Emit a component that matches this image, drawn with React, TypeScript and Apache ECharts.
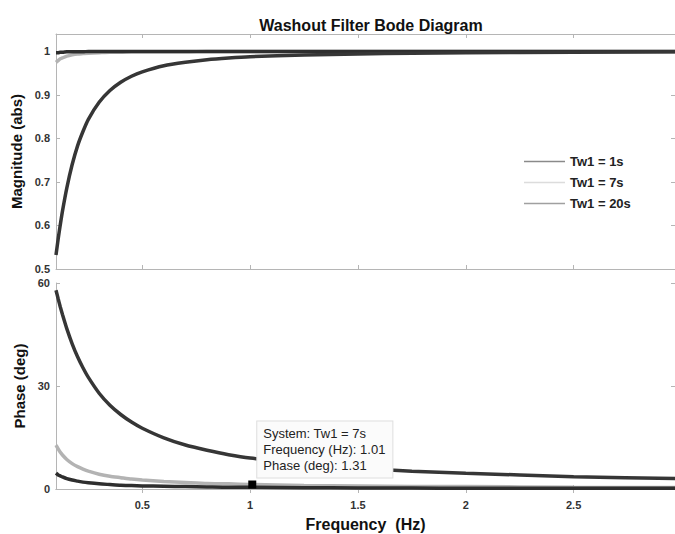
import React, { useEffect, useRef } from "react";
import * as echarts from "echarts";

const freq = [0.1, 0.11, 0.12, 0.13, 0.15, 0.175, 0.2, 0.225, 0.25, 0.3, 0.35, 0.4, 0.45, 0.5, 0.6, 0.7, 0.8, 0.9, 1.0, 1.25, 1.5, 1.75, 2.0, 2.5, 3.0];

const magTw1 = [0.532, 0.569, 0.602, 0.633, 0.686, 0.74, 0.783, 0.816, 0.844, 0.883, 0.91, 0.929, 0.943, 0.953, 0.967, 0.975, 0.981, 0.985, 0.988, 0.992, 0.994, 0.996, 0.997, 0.998, 0.999];
const magTw7 = [0.975, 0.979, 0.983, 0.985, 0.989, 0.992, 0.994, 0.995, 0.996, 0.997, 0.998, 0.998, 0.999, 0.999, 0.999, 0.999, 1.0, 1.0, 1.0, 1.0, 1.0, 1.0, 1.0, 1.0, 1.0];
const magTw20 = [0.997, 0.997, 0.998, 0.998, 0.999, 0.999, 0.999, 0.999, 1.0, 1.0, 1.0, 1.0, 1.0, 1.0, 1.0, 1.0, 1.0, 1.0, 1.0, 1.0, 1.0, 1.0, 1.0, 1.0, 1.0];

const phTw1 = [57.9, 55.4, 53.0, 50.8, 46.7, 42.3, 38.5, 35.3, 32.5, 27.9, 24.4, 21.7, 19.5, 17.7, 14.9, 12.8, 11.3, 10.0, 9.0, 7.3, 6.1, 5.2, 4.6, 3.6, 3.0];
const phTw7 = [12.8, 11.7, 10.7, 9.9, 8.6, 7.4, 6.5, 5.8, 5.2, 4.3, 3.7, 3.3, 2.9, 2.6, 2.2, 1.9, 1.6, 1.5, 1.3, 1.0, 0.9, 0.7, 0.7, 0.5, 0.4];
const phTw20 = [4.6, 4.1, 3.8, 3.5, 3.0, 2.6, 2.3, 2.0, 1.8, 1.5, 1.3, 1.1, 1.0, 0.9, 0.8, 0.7, 0.6, 0.5, 0.5, 0.4, 0.3, 0.3, 0.2, 0.2, 0.2];

const seriesNames = ["Tw1 = 1s", "Tw1 = 7s", "Tw1 = 20s"];
const xTicks = [0.5, 1, 1.5, 2, 2.5];
const magTicks = [0.5, 0.6, 0.7, 0.8, 0.9, 1];
const phTicks = [0, 30, 60];
const cursor = { system: "Tw1 = 7s", freq: 1.01, phase: 1.31 };

const pair = (ys: number[]) => freq.map((f, i) => [f, ys[i]]);

const FONT = "'Liberation Sans', Arial, sans-serif";
const BORDER = "#b5b5b5";

export default function App() {
  const ref = useRef<HTMLDivElement>(null);
  useEffect(() => {
    document.body.style.margin = "0";
    const chart = echarts.init(ref.current!, null, { renderer: "svg" });
    const tickStyle = { show: true, inside: true, length: 4, lineStyle: { color: BORDER } };
    const axisLine = { show: true, lineStyle: { color: BORDER, width: 1 } };
    const label = { fontFamily: FONT, fontWeight: "bold" as const, fontSize: 11, color: "#333" };
    const nameStyle = { fontFamily: FONT, fontWeight: "bold" as const, fontSize: 15, color: "#111" };

    const xBase = (grid: number, pos: "top" | "bottom", labels: boolean, name?: string) => ({
      type: "value",
      gridIndex: grid,
      position: pos,
      min: 0.1,
      max: 2.97,
      axisLine,
      axisTick: { ...tickStyle, customValues: xTicks },
      axisLabel: { show: labels, customValues: xTicks, margin: 10, ...label },
      splitLine: { show: false },
      name,
      nameLocation: "middle",
      nameGap: 27,
      nameTextStyle: { ...nameStyle, fontSize: 16 },
    });
    const yBase = (grid: number, pos: "left" | "right", min: number, max: number, ticks: number[], labels: boolean, name?: string) => ({
      type: "value",
      gridIndex: grid,
      position: pos,
      min,
      max,
      axisLine,
      axisTick: { ...tickStyle, customValues: ticks },
      axisLabel: { show: labels, customValues: ticks, margin: 6, ...label },
      splitLine: { show: false },
      name,
      nameLocation: "middle",
      nameGap: 26,
      nameTextStyle: nameStyle,
    });

    const colors: Record<string, string> = {
      "Tw1 = 1s": "#363636",
      "Tw1 = 7s": "#b3b3b3",
      "Tw1 = 20s": "#2e2e2e",
    };
    const legendColors: Record<string, string> = {
      "Tw1 = 1s": "#8a8a8a",
      "Tw1 = 7s": "#dcdcdc",
      "Tw1 = 20s": "#a0a0a0",
    };
    const mags: Record<string, number[]> = { "Tw1 = 1s": magTw1, "Tw1 = 7s": magTw7, "Tw1 = 20s": magTw20 };
    const phs: Record<string, number[]> = { "Tw1 = 1s": phTw1, "Tw1 = 7s": phTw7, "Tw1 = 20s": phTw20 };
    const drawOrder = ["Tw1 = 7s", "Tw1 = 20s", "Tw1 = 1s"];

    const series: any[] = [];
    drawOrder.forEach((n) => {
      const common = {
        type: "line",
        name: n,
        showSymbol: false,
        smooth: 0.2,
        lineStyle: { width: 3.5, color: colors[n] },
        itemStyle: { color: colors[n] },
      };
      series.push({ ...common, xAxisIndex: 0, yAxisIndex: 0, data: pair(mags[n]) });
      const s: any = { ...common, xAxisIndex: 2, yAxisIndex: 2, data: pair(phs[n]) };
      if (n === cursor.system) {
        s.markPoint = {
          symbol: "rect",
          symbolSize: 8,
          itemStyle: { color: "#000" },
          data: [{ coord: [cursor.freq, cursor.phase] }],
          label: {
            show: true,
            position: [9, -59],
            formatter: `System: ${cursor.system}\nFrequency (Hz): ${cursor.freq.toFixed(2)}\nPhase (deg): ${cursor.phase.toFixed(2)}`,
            fontFamily: FONT,
            fontSize: 13,
            lineHeight: 16,
            color: "#222",
            align: "left",
            verticalAlign: "top",
            backgroundColor: "#fbfbfb",
            borderColor: "#dedede",
            borderWidth: 1,
            padding: [4, 7, 4, 6],
          },
        };
      }
      series.push(s);
    });

    chart.setOption({
      animation: false,
      backgroundColor: "#fff",
      title: {
        text: "Washout Filter Bode Diagram",
        left: 366,
        top: 12,
        textAlign: "center",
        textStyle: { fontFamily: FONT, fontWeight: "bold", fontSize: 16, color: "#111" },
      },
      legend: {
        orient: "vertical",
        left: 519,
        top: 150,
        itemWidth: 41,
        itemHeight: 1.5,
        itemGap: 8,
        icon: "rect",
        textStyle: { fontFamily: FONT, fontWeight: "bold", fontSize: 13, color: "#222" },
        data: seriesNames.map((n) => ({ name: n, itemStyle: { color: legendColors[n] } })),
      },
      grid: [
        { left: 56, right: 0, top: 34, height: 235, show: false },
        { left: 56, right: 0, top: 283, height: 206, show: false },
      ],
      xAxis: [
        xBase(0, "bottom", false),
        xBase(0, "top", false),
        xBase(1, "bottom", true, "Frequency  (Hz)"),
        xBase(1, "top", false),
      ],
      yAxis: [
        yBase(0, "left", 0.5, 1.04, magTicks, true, "Magnitude (abs)"),
        yBase(0, "right", 0.5, 1.04, magTicks, false),
        yBase(1, "left", 0, 60, phTicks, true, "Phase (deg)"),
        yBase(1, "right", 0, 60, phTicks, false),
      ],
      series,
    });
    return () => chart.dispose();
  }, []);
  return <div ref={ref} style={{ width: 675, height: 534 }} />;
}
